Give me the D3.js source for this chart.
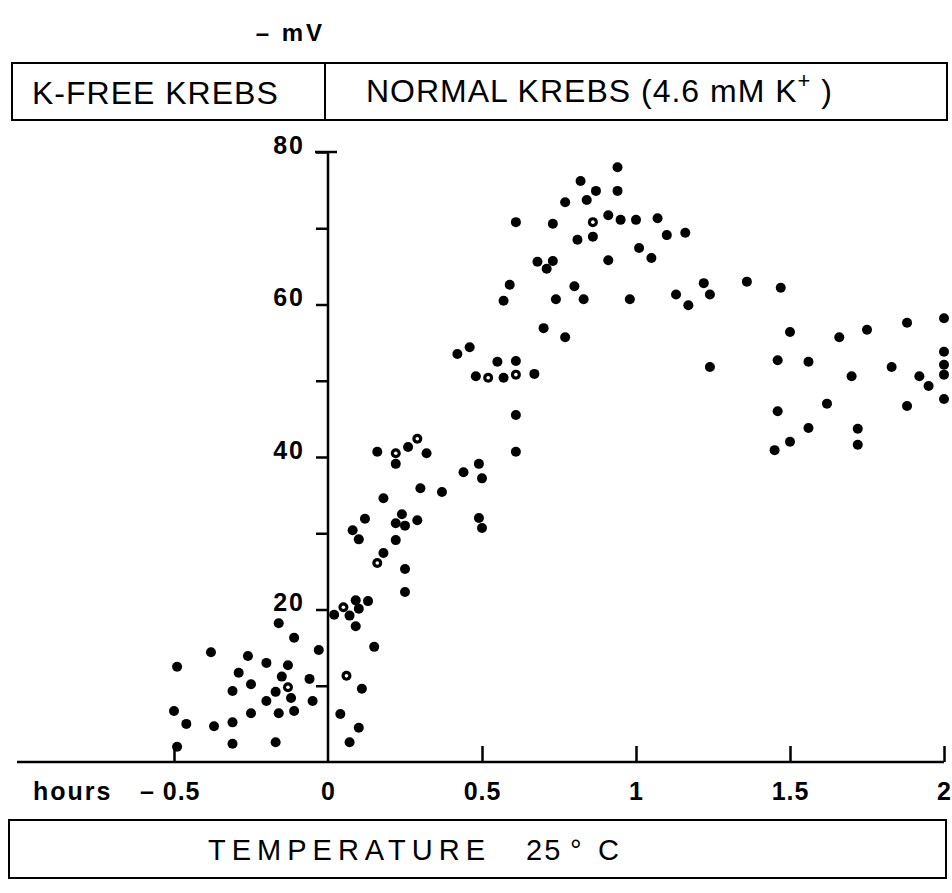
<!DOCTYPE html>
<html>
<head>
<meta charset="utf-8">
<script src="https://cdn.jsdelivr.net/npm/d3@7"></script>
<style>
  body { margin: 0; background: #fff; }
  svg text { fill: #000; }
</style>
</head>
<body>
<div id="chart"></div>
<script>
const width = 952;
const height = 893;

// time (hours) and membrane potential (-mV)
const kfreeTime = [-0.49, -0.38, -0.50, -0.46, -0.49, -0.37, -0.31, -0.31, -0.31, -0.29, -0.26, -0.25, -0.25, -0.20,
    -0.20, -0.17, -0.16, -0.17, -0.16, -0.15, -0.13, -0.12, -0.11, -0.11, -0.06, -0.05, -0.03];
const kfreeMv = [12.5, 14.4, 6.7, 5.0, 2.0, 4.7, 5.2, 2.4, 9.3, 11.7, 13.9, 10.2, 6.4, 13.0,
    8.0, 9.2, 6.4, 2.6, 18.2, 11.2, 12.7, 8.4, 6.7, 16.3, 10.9, 8.0, 14.7];

const normalTime = [0.02, 0.07, 0.09, 0.13, 0.10, 0.09, 0.15, 0.11, 0.04, 0.10, 0.07,
    0.16, 0.22, 0.26, 0.32, 0.30, 0.37, 0.18, 0.44, 0.49, 0.50, 0.49, 0.50, 0.12, 0.08, 0.10,
    0.22, 0.24, 0.25, 0.29, 0.22, 0.18, 0.25, 0.25, 0.61, 0.61,
    0.94, 0.82, 0.87, 0.94, 0.77, 0.84, 0.61, 0.73, 0.91, 0.95, 1.00, 1.07, 1.10, 1.16,
    0.81, 0.86, 1.01, 1.05, 0.68, 0.73, 0.71, 0.91, 0.59, 0.57, 0.74, 0.80, 0.83, 0.98,
    1.13, 1.17, 1.22, 0.70, 0.77, 0.42, 0.46, 0.55, 0.61, 0.48, 0.57, 0.67,
    1.24, 1.36, 1.47, 1.50, 1.24, 1.66, 1.75, 1.88, 2.00, 1.46, 1.56, 1.70, 1.83, 1.92,
    1.95, 2.00, 2.00, 2.00, 2.00, 1.46, 1.62, 1.88, 1.56, 1.50, 1.45, 1.72, 1.72];
const normalMv = [19.3, 19.2, 21.2, 21.1, 20.1, 17.8, 15.1, 9.6, 6.3, 4.5, 2.6,
    40.7, 39.1, 41.3, 40.5, 35.9, 35.4, 34.6, 38.0, 39.1, 37.2, 32.0, 30.7, 31.9, 30.4, 29.2,
    31.3, 32.5, 31.0, 31.7, 29.1, 27.4, 25.3, 22.3, 45.5, 40.7,
    78.0, 76.2, 74.9, 74.9, 73.4, 73.7, 70.8, 70.6, 71.7, 71.1, 71.1, 71.3, 69.1, 69.4,
    68.5, 68.9, 67.4, 66.1, 65.6, 65.7, 64.7, 65.8, 62.6, 60.5, 60.7, 62.4, 60.7, 60.7,
    61.3, 59.9, 62.8, 56.9, 55.7, 53.5, 54.4, 52.5, 52.6, 50.6, 50.4, 50.9,
    61.3, 63.0, 62.2, 56.4, 51.8, 55.7, 56.7, 57.6, 58.2, 52.7, 52.5, 50.6, 51.8, 50.6,
    49.3, 53.8, 52.1, 50.8, 47.6, 46.0, 47.0, 46.7, 43.8, 42.0, 40.9, 43.7, 41.6];

// points printed as rings
const ringTime = [-0.13, 0.05, 0.06, 0.22, 0.29, 0.16, 0.86, 0.52, 0.61];
const ringMv = [9.8, 20.3, 11.3, 40.5, 42.4, 26.1, 70.8, 50.4, 50.8];

const yTicks = [10, 20, 30, 40, 50, 60, 70, 80];
const xTicks = [-0.5, 0, 0.5, 1, 1.5, 2];
const xTickLabels = ["\u2013 0.5", "0", "0.5", "1", "1.5", "2"];

const svg = d3.select("#chart")
    .append("svg")
    .attr("width", width)
    .attr("height", height);

const x = d3.scaleLinear().domain([-0.5, 2]).range([174, 944]);
const y = d3.scaleLinear().domain([0, 80]).range([762, 152]);

const tickFont = "'Liberation Sans', Arial, sans-serif";

// top label
svg.append("text")
    .attr("x", x(0) - 3)
    .attr("y", 41)
    .attr("text-anchor", "end")
    .attr("font-family", tickFont)
    .attr("font-weight", "bold")
    .attr("font-size", 24)
    .attr("letter-spacing", 3)
    .text("\u2013 mV");

// top condition box
const topBox = svg.append("g");
topBox.append("rect")
    .attr("x", 12).attr("y", 63)
    .attr("width", 935).attr("height", 57)
    .attr("fill", "none").attr("stroke", "#000").attr("stroke-width", 2);
topBox.append("line")
    .attr("x1", x(0) - 3).attr("x2", x(0) - 3)
    .attr("y1", 63).attr("y2", 120)
    .attr("stroke", "#000").attr("stroke-width", 2);
topBox.append("text")
    .attr("x", 32).attr("y", 104)
    .attr("font-family", tickFont)
    .attr("font-size", 32)
    .attr("letter-spacing", 1)
    .text("K-FREE KREBS");
const nk = topBox.append("text")
    .attr("x", 366).attr("y", 102)
    .attr("font-family", tickFont)
    .attr("font-size", 32)
    .attr("letter-spacing", 1);
nk.append("tspan").text("NORMAL KREBS (4.6 mM K");
nk.append("tspan").attr("dy", -14).attr("font-size", 22).text("+");
nk.append("tspan").attr("dy", 14).text(" )");

// y axis
const yAxis = svg.append("g")
    .attr("transform", `translate(${x(0)},0)`)
    .call(d3.axisLeft(y)
        .tickValues(yTicks)
        .tickSize(12)
        .tickSizeOuter(0)
        .tickPadding(11)
        .tickFormat(d => d % 20 === 0 ? d : ""));
yAxis.select(".domain").remove();
yAxis.append("line")
    .attr("y1", y(0)).attr("y2", y(80))
    .attr("stroke", "#000").attr("stroke-width", 2.5);
yAxis.append("line")
    .attr("x1", -13).attr("x2", 9)
    .attr("y1", y(80)).attr("y2", y(80))
    .attr("stroke", "#000").attr("stroke-width", 2.5);
yAxis.selectAll(".tick line").attr("stroke-width", 2.5);
yAxis.selectAll(".tick text")
    .attr("y", -7)
    .attr("font-family", tickFont)
    .attr("font-weight", "bold")
    .attr("font-size", 25)
    .attr("letter-spacing", 2);

// x axis
const xAxis = svg.append("g")
    .attr("transform", `translate(0,${y(0)})`)
    .call(d3.axisBottom(x)
        .tickValues(xTicks)
        .tickSize(-16)
        .tickSizeOuter(0)
        .tickPadding(20)
        .tickFormat((d, i) => xTickLabels[i]));
xAxis.select(".domain").remove();
xAxis.append("line")
    .attr("x1", 17).attr("x2", x(2))
    .attr("stroke", "#000").attr("stroke-width", 2.5);
xAxis.selectAll(".tick line")
    .attr("stroke-width", 2.5)
    .attr("display", d => d === 0 ? "none" : null);
xAxis.selectAll(".tick text")
    .attr("font-family", tickFont)
    .attr("font-weight", "bold")
    .attr("font-size", 25)
    .attr("letter-spacing", 1);
xAxis.selectAll(".tick text")
    .filter(d => d === -0.5)
    .attr("text-anchor", "end")
    .attr("dx", 26);
xAxis.append("text")
    .attr("x", 33)
    .attr("y", 20)
    .attr("dy", "0.71em")
    .attr("text-anchor", "start")
    .attr("font-family", tickFont)
    .attr("font-weight", "bold")
    .attr("font-size", 25)
    .attr("letter-spacing", 2)
    .attr("fill", "#000")
    .text("hours");

// points
const pts = kfreeTime.map((t, i) => [t, kfreeMv[i]])
    .concat(normalTime.map((t, i) => [t, normalMv[i]]));
const rings = ringTime.map((t, i) => [t, ringMv[i]]);

svg.append("g")
    .selectAll("circle")
    .data(pts.concat(rings))
    .enter()
    .append("circle")
    .attr("cx", d => x(d[0]))
    .attr("cy", d => y(d[1]))
    .attr("r", 5)
    .attr("fill", "#000");

svg.append("g")
    .selectAll("circle")
    .data(rings)
    .enter()
    .append("circle")
    .attr("cx", d => x(d[0]))
    .attr("cy", d => y(d[1]))
    .attr("r", 1.8)
    .attr("fill", "#fff");

// bottom box
svg.append("rect")
    .attr("x", 9).attr("y", 820)
    .attr("width", 937).attr("height", 58)
    .attr("fill", "none").attr("stroke", "#000").attr("stroke-width", 2);
const temp = svg.append("text")
    .attr("y", 860)
    .attr("font-family", tickFont)
    .attr("font-size", 29)
    .attr("letter-spacing", 6);
temp.append("tspan").attr("x", 208).text("TEMPERATURE");
temp.append("tspan").attr("x", 526).attr("letter-spacing", 2).text("25");
temp.append("tspan").attr("x", 570).text("\u00b0");
temp.append("tspan").attr("x", 598).text("C");
</script>
</body>
</html>
